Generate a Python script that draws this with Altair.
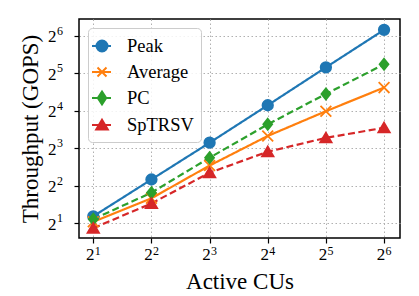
import altair as alt
import pandas as pd

cus = [2, 4, 8, 16, 32, 64]
exponents = ["1", "2", "3", "4", "5", "6"]
series_names = ["Peak", "Average", "PC", "SpTRSV"]
peak = [2.28, 4.50, 8.88, 17.75, 35.75, 71.5]
average = [2.06, 3.18, 5.82, 10.06, 15.9, 24.6]
pc = [2.16, 3.53, 6.73, 12.47, 21.86, 37.8]
sptrsv = [1.83, 2.89, 5.10, 7.52, 9.71, 11.71]

colors = ["#1f77b4", "#ff7f0e", "#2ca02c", "#d62728"]
dashes = [[1, 0], [1, 0], [7, 3.5], [7, 3.5]]
point_shapes = [
    "circle",
    "M-1,-1L1,1M-1,1L1,-1",
    "M0,-1L0.8,0L0,1L-0.8,0Z",
    "M0,-0.9L1,0.8L-1,0.8Z",
]
point_sizes = [110, 130, 190, 130]
legend_shapes = [
    "M-1.4,0H0.5M0.15,0A0.55,0.55,0,1,1,-0.95,0A0.55,0.55,0,1,1,0.15,0Z",
    "M-1.4,0H0.5M-0.85,-0.45L0.05,0.45M-0.85,0.45L0.05,-0.45",
    "M-1.4,0H0.5M-0.4,-0.65L0.02,0L-0.4,0.65L-0.82,0Z",
    "M-1.4,0H0.5M-0.4,-0.52L0.18,0.45L-0.98,0.45Z",
]

rows = []
for name, vals in zip(series_names, [peak, average, pc, sptrsv]):
    for c, v in zip(cus, vals):
        rows.append({"cu": c, "gops": v, "series": name})
df = pd.DataFrame(rows)

xtick_df = pd.DataFrame({"cu": cus, "exp": exponents})
ytick_df = pd.DataFrame({"gops": cus, "exp": exponents})

PW, PH = 321, 219

x_enc = alt.X(
    "cu:Q",
    scale=alt.Scale(type="log", base=2, domain=[1.687, 77.4], nice=False),
    axis=alt.Axis(values=cus, labelExpr="'2'", labelOffset=-3.5,
                  title="Active CUs"),
)
y_enc = alt.Y(
    "gops:Q",
    scale=alt.Scale(type="log", base=2, domain=[1.526, 87.4], nice=False),
    axis=alt.Axis(values=cus, labelExpr="'2'", labelPadding=18,
                  labelOffset=1, title="Throughput (GOPS)"),
)
color_scale = alt.Scale(domain=series_names, range=colors)

base = alt.Chart(df)

lines = base.mark_line(strokeWidth=2.2).encode(
    x=x_enc,
    y=y_enc,
    color=alt.Color("series:N", scale=color_scale, legend=None),
    strokeDash=alt.StrokeDash("series:N",
                              scale=alt.Scale(domain=series_names, range=dashes),
                              legend=None),
)

points = base.mark_point(filled=True, opacity=1, strokeWidth=1.8).encode(
    x=x_enc,
    y=y_enc,
    color=alt.Color("series:N", scale=color_scale, legend=None),
    stroke=alt.Stroke("series:N", scale=color_scale, legend=None),
    shape=alt.Shape("series:N",
                    scale=alt.Scale(domain=series_names, range=point_shapes),
                    legend=None),
    size=alt.Size("series:N",
                  scale=alt.Scale(domain=series_names, range=point_sizes),
                  legend=None),
)

xexp = alt.Chart(xtick_df).mark_text(
    font="Liberation Serif", fontSize=12, color="black",
    align="left", baseline="middle", dx=1.5,
).encode(x=x_enc, y=alt.value(PH + 13), text="exp:N")

yexp = alt.Chart(ytick_df).mark_text(
    font="Liberation Serif", fontSize=12, color="black",
    align="left", baseline="middle", dy=-5,
).encode(y=y_enc, x=alt.value(-22), text="exp:N")

leg = alt.Legend(
    title=None,
    orient="top-left",
    offset=9,
    padding=7,
    fillColor="rgba(255,255,255,0.85)",
    strokeColor="#cccccc",
    cornerRadius=4,
    labelFont="Liberation Serif",
    labelFontSize=18.5,
    labelColor="black",
    labelOffset=10,
    symbolSize=400,
    symbolStrokeWidth=2,
    rowPadding=5,
)

legend_layer = base.transform_filter("false").mark_point(
    filled=True, size=400, strokeWidth=2, opacity=1
).encode(
    color=alt.Color("series:N", scale=color_scale, legend=leg),
    stroke=alt.Stroke("series:N", scale=color_scale, legend=leg),
    shape=alt.Shape("series:N",
                    scale=alt.Scale(domain=series_names, range=legend_shapes),
                    legend=leg),
)

chart = (
    alt.layer(lines, points, xexp, yexp, legend_layer)
    .resolve_scale(color="independent", stroke="independent",
                   shape="independent", strokeDash="independent",
                   size="independent")
    .properties(
        width=PW,
        height=PH,
        autosize=alt.AutoSizeParams(type="none"),
        padding={"left": 71, "top": 11, "right": 3, "bottom": 58},
    )
    .configure_view(stroke="black", strokeWidth=1.5)
    .configure_axis(
        domain=False,
        grid=True,
        gridColor="#b0b0b0",
        gridDash=[1.5, 2.5],
        gridWidth=1,
        ticks=True,
        tickColor="black",
        tickSize=5,
        tickWidth=1.2,
        labelFont="Liberation Serif",
        labelFontSize=17,
        labelColor="black",
        titleFont="Liberation Serif",
        titleFontSize=23,
        titleFontWeight="normal",
        titleColor="black",
    )
    .configure_axisX(labelPadding=3, titlePadding=8)
    .configure_axisY(titlePadding=5)
)

chart.save("out.html", embed_options={"renderer": "svg", "actions": False})
